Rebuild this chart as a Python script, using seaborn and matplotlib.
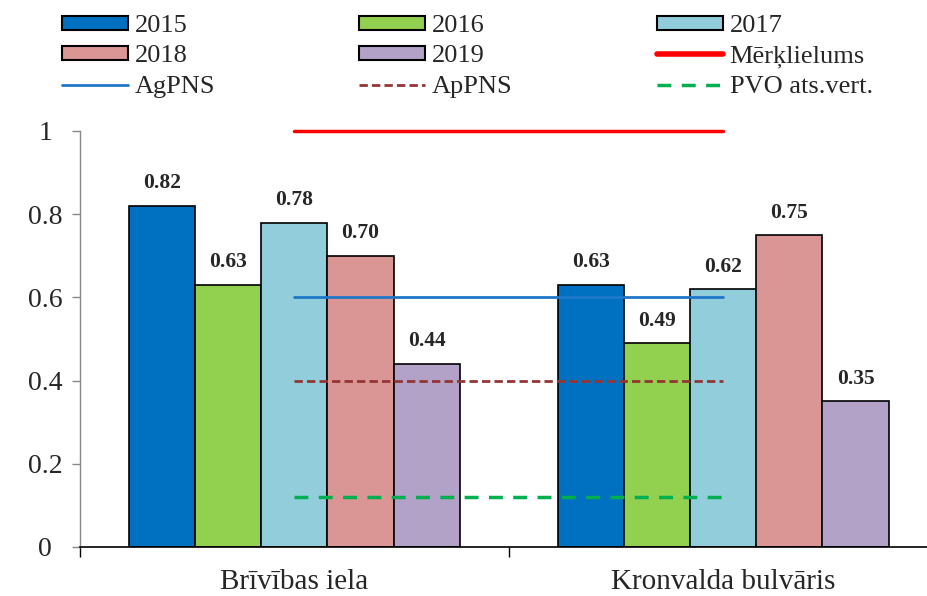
import matplotlib
matplotlib.use("Agg")
import matplotlib.pyplot as plt
import seaborn as sns
import pandas as pd
from matplotlib.patches import Patch
from matplotlib.lines import Line2D

categories = ["Brīvības iela", "Kronvalda bulvāris"]
years = ["2015", "2016", "2017", "2018", "2019"]
v2015 = [0.82, 0.63]
v2016 = [0.63, 0.49]
v2017 = [0.78, 0.62]
v2018 = [0.70, 0.75]
v2019 = [0.44, 0.35]
target = 1.0      # Mērķlielums
agpns = 0.6
appns = 0.4
pvo = 0.12
ref_labels = ["Mērķlielums", "AgPNS", "ApPNS", "PVO ats.vert."]

colors = ["#0070C0", "#92D050", "#92CDDC", "#D99694", "#B3A2C7"]

rows = []
for y, vals in zip(years, [v2015, v2016, v2017, v2018, v2019]):
    for c, v in zip(categories, vals):
        rows.append({"cat": c, "year": y, "val": v})
df = pd.DataFrame(rows)

sns.set_theme(style="white")
plt.rcParams["font.family"] = ["Liberation Serif", "DejaVu Serif"]

fig = plt.figure(figsize=(9.28, 5.96), dpi=100)
ax = fig.add_axes([80/928, 1-547/596, (928-80)/928, (547-131)/596])

sns.barplot(data=df, x="cat", y="val", hue="year", palette=colors, saturation=1,
            width=0.77, edgecolor="black", linewidth=1.2, ax=ax, legend=False)

for cont in ax.containers:
    ax.bar_label(cont, fmt="%.2f", padding=9, fontsize=15.5, fontweight="bold")

blue_line = "#1F77C8"
ax.plot([0, 1], [target, target], color="#FF0000", lw=2.5, clip_on=False)
ax.plot([0, 1], [agpns, agpns], color=blue_line, lw=2)
ax.plot([0, 1], [appns, appns], color="#943634", lw=2, ls=(0, (3, 1.5)))
ax.plot([0, 1], [pvo, pvo], color="#00B050", lw=2.5, ls=(0, (4, 3)))

ax.set_yticks([0, 0.2, 0.4, 0.6, 0.8, 1.0])
ax.set_yticklabels(["0", "0.2", "0.4", "0.6", "0.8", "1"])
for t in ax.get_yticklabels():
    t.set_horizontalalignment("center")
ax.set_xlabel("")
ax.set_ylabel("")
ax.tick_params(axis="y", labelsize=20, length=6, width=1, direction="out",
               color="#888888", left=True, pad=19)
ax.set_xticks([0, 1])
ax.set_xticklabels(categories)
ax.tick_params(axis="x", which="major", labelsize=21, length=0, pad=16)
ax.set_xticks([-0.5, 0.5, 1.5], minor=True)
ax.tick_params(axis="x", which="minor", length=7, width=1, direction="out",
               color="black", bottom=True)
ax.set_ylim(0, 1)
ax.set_xlim(-0.5, 1.477)
for s in ["top", "right"]:
    ax.spines[s].set_visible(False)
ax.spines["left"].set_color("#888888")
ax.spines["bottom"].set_color("black")
ax.spines["left"].set_linewidth(1)
ax.spines["bottom"].set_linewidth(1.2)

bar_handles = [Patch(facecolor=c, edgecolor="black", linewidth=1.5, label=y) for c, y in zip(colors, years)]
line_handles = [
    Line2D([], [], color="#FF0000", lw=4, label=ref_labels[0]),
    Line2D([], [], color=blue_line, lw=2, label=ref_labels[1]),
    Line2D([], [], color="#943634", lw=2, ls=(0, (3, 1.5)), label=ref_labels[2]),
    Line2D([], [], color="#00B050", lw=2.5, ls=(0, (4, 3)), label=ref_labels[3]),
]
columns = [
    ([bar_handles[0], bar_handles[3], line_handles[1]], 62),
    ([bar_handles[1], bar_handles[4], line_handles[2]], 359),
    ([bar_handles[2], line_handles[0], line_handles[3]], 657),
]
for hs, x0 in columns:
    leg = fig.legend(handles=hs, labels=[h.get_label() for h in hs], ncol=1,
                     loc="upper left", bbox_to_anchor=(x0/928, 1 - 15/596), frameon=False,
                     fontsize=19, handlelength=2.5, handleheight=0.45, handletextpad=0.25,
                     labelspacing=0.32, borderaxespad=0, borderpad=0)

fig.savefig("out.png", dpi=100)
